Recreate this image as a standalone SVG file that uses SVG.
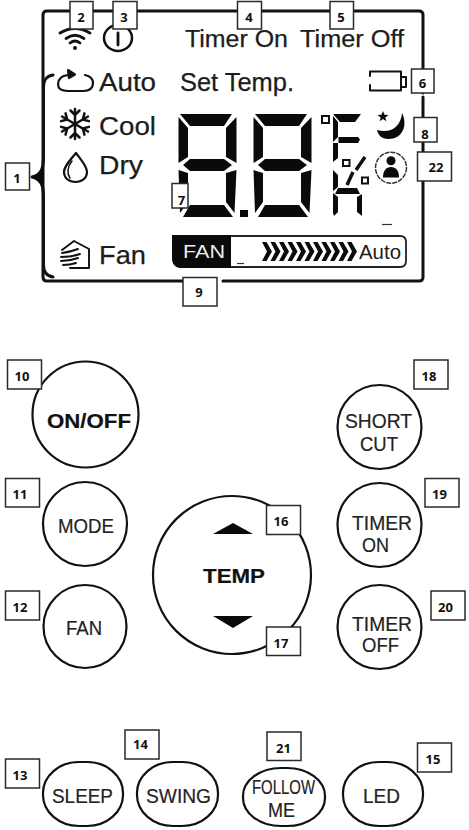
<svg xmlns="http://www.w3.org/2000/svg" width="469" height="830" viewBox="0 0 469 830">
<style>
text{font-family:"Liberation Sans",Arial,sans-serif;fill:#1c1c1c}
.lcd{font-size:26px;stroke:#1c1c1c;stroke-width:.25}
.top{font-size:23px}
.btn{font-size:21px;fill:#222;stroke:#222;stroke-width:.2}
.b{font-weight:bold;fill:#111;stroke:#111;stroke-width:.2}
.num text{font-family:"Open Sans","Liberation Sans",sans-serif;font-size:13px;font-weight:700;fill:#111;text-anchor:middle}
.box{fill:#fff;stroke:#2a2a2a;stroke-width:1.5}
.ring{fill:#fff;stroke:#111;stroke-width:2.2}
.line{fill:none;stroke:#111;stroke-width:3;stroke-linecap:round;stroke-linejoin:round}
.icon{fill:none;stroke:#111;stroke-width:2.2;stroke-linecap:round;stroke-linejoin:round}
.solid{fill:#0a0a0a}
</style>
<defs>
<g id="digit" class="solid">
<polygon points="2,1 54,1 46,13 12,13"/>
<polygon points="0.5,4 10,15 10,44 0.5,50"/>
<polygon points="58.5,4 48,15 48,44 58.5,50"/>
<polygon points="5,52 12,46 46,46 54,52 46,58 12,58"/>
<polygon points="0.5,57 10,60 10,89 2,100"/>
<polygon points="58.5,57 48,60 48,89 56.5,100"/>
<polygon points="12,92 46,92 55,104 5,104"/>
</g>
<polygon id="chev" class="solid" points="0,0 4.5,0 10,9.5 4.5,19 0,19 5,9.5"/>
<path id="arm" d="M0,0V-15M-4.5,-13.5L0,-9L4.5,-13.5"/>
</defs>
<rect width="469" height="830" fill="#fff"/>

<g id="lcd-frame">
<path class="line" d="M183,281H47Q43,281 43,277V15Q43,11 47,11H419Q423,11 423,15V93M423,97V277Q423,281 419,281H223"/>
</g>

<g id="connectors">
<path class="line" d="M53,75C46,76 43.500,80 43.500,88V158C43.500,170 40,175 32,177C40,179 43.500,184 43.500,196V265C43.500,272 46,276 53,277"/>
<path class="solid" d="M32,177C38,174 42,170 43.500,165V189C42,184 38,180 32,177Z"/>
</g>

<g id="icon-wifi" class="icon">
<path d="M70,43Q75,39 80,43M66,38.500Q75,32 84,38.500M60,33Q75,24 90,33" style="stroke-width:2.800"/>
<circle cx="75" cy="48" r="2" class="solid" style="stroke:none"/>
</g>
<g id="icon-power" class="icon"><ellipse cx="118" cy="38" rx="14" ry="13" style="stroke-width:2.500"/><path d="M118,33V45" style="stroke-width:2.800"/></g>

<g id="lcd-labels">
<text class="lcd top" x="185" y="47" textLength="103" lengthAdjust="spacingAndGlyphs">Timer On</text>
<text class="lcd top" x="300" y="47" textLength="104" lengthAdjust="spacingAndGlyphs">Timer Off</text>
<text class="lcd" x="180" y="91" textLength="114" lengthAdjust="spacingAndGlyphs" style="font-size:25px">Set Temp.</text>
<text class="lcd" x="99" y="91" textLength="57" lengthAdjust="spacingAndGlyphs">Auto</text>
<text class="lcd" x="99" y="135" textLength="57" lengthAdjust="spacingAndGlyphs">Cool</text>
<text class="lcd" x="99" y="174" textLength="44" lengthAdjust="spacingAndGlyphs">Dry</text>
<text class="lcd" x="99" y="264" textLength="47" lengthAdjust="spacingAndGlyphs">Fan</text>
</g>

<g id="icon-auto" class="icon"><path d="M70,75C61,75 58,80 58,84C58,89 62,91 68,91H83C90,91 93,88 93,83C93,79 90,76 85,75"/><polygon class="solid" points="68,70 75,74.500 69,78"/></g>
<g id="icon-cool" class="icon" transform="translate(75,124)" style="stroke-width:2.500">
<use href="#arm"/><use href="#arm" transform="rotate(60)"/><use href="#arm" transform="rotate(120)"/><use href="#arm" transform="rotate(180)"/><use href="#arm" transform="rotate(240)"/><use href="#arm" transform="rotate(300)"/>
</g>
<g id="icon-dry" class="icon"><path d="M76,153C70,160 64,167 64,172C64,178 69,182 75.500,182C82,182 87,178 87,172C87,166 81,160 76,153Z"/><path d="M72,161C67,167 67,174 70,178" style="stroke-width:1.500"/></g>
<g id="icon-fan" class="icon" style="stroke-width:1.900"><path d="M62,250L74,241L89,249V268H70"/><path d="M62,253Q70,252 78,249M61,257Q72,257 80,254M61,261Q70,261 78,258M63,265Q70,265 76,263"/></g>

<g id="digits">
<use href="#digit" x="178" y="113"/>
<use href="#digit" x="253" y="113"/>
<rect class="solid" x="240" y="210" width="8" height="7"/>
</g>
<g id="units">
<rect x="322" y="116" width="7" height="7" fill="none" stroke="#111" stroke-width="2"/>
<g class="solid">
<polygon points="333,114 361,114 355,122 340,122"/>
<polygon points="333,116 338,122 338,137 333,142"/>
<polygon points="338.500,137 358,137 360,139.500 358,143 338.500,143"/>
<polygon points="333,143 338,143 338,158 333,162"/>
<polygon points="333,170 338,175 338,187 333,191"/>
<polygon points="338,188 357,188 360,194 335,194"/>
<polygon points="333,193 338,197 338,212 334,216 333,213"/>
<polygon points="357,197 362,194 362,216 357,212"/>
</g>
<rect x="343" y="160" width="6.500" height="6" fill="none" stroke="#111" stroke-width="2"/>
<rect x="362" y="177.500" width="6" height="6" fill="none" stroke="#111" stroke-width="2"/>
<path d="M365,157L356,170M353,172L347,185" fill="none" stroke="#111" stroke-width="3.500"/>
</g>
<g id="icon-battery" class="icon" style="stroke-width:2"><path d="M370,76V71.500H401V90.500H370V85"/><rect x="401" y="77" width="5" height="10"/></g>
<g id="icon-sleep">
<path class="solid" d="M402,113C408,125 403,139 388,139C382,139 378,135 377,130C390,134 401,127 402,113Z"/>
<polygon class="solid" points="383,111 384.500,114.800 388.500,115 385.300,117.500 386.400,121.300 383,119 379.600,121.300 380.700,117.500 377.500,115 381.500,114.800"/>
</g>
<g id="icon-follow">
<circle cx="391" cy="167.700" r="15.500" fill="none" stroke="#333" stroke-width="1.500" stroke-dasharray="5 1"/>
<circle class="solid" cx="391" cy="160.700" r="4.500"/>
<path class="solid" d="M383,177.500C383,171 386,167 391,167C396,167 399,171 399,177.500Z"/>
</g>
<path id="dash-a" d="M382,224.500H392" stroke="#333" stroke-width="1.200"/>

<g id="fan-bar">
<path d="M174,236H400Q406,236 406,242V261Q406,267 400,267H181Q173,267 173,258V236Z" fill="#fff" stroke="#222" stroke-width="1.800"/>
<path class="solid" d="M172,235H231V268H182Q172,268 172,257Z"/>
<text x="183" y="258" textLength="42" lengthAdjust="spacingAndGlyphs" style="font-size:19px;fill:#eee">FAN</text>
<g>
<use href="#chev" x="262" y="242"/><use href="#chev" x="270.500" y="242"/><use href="#chev" x="279" y="242"/><use href="#chev" x="287.500" y="242"/><use href="#chev" x="296" y="242"/><use href="#chev" x="304.500" y="242"/><use href="#chev" x="313" y="242"/><use href="#chev" x="321.500" y="242"/><use href="#chev" x="330" y="242"/><use href="#chev" x="338.500" y="242"/><use href="#chev" x="347" y="242"/>
</g>
<text x="359" y="259" textLength="42" lengthAdjust="spacingAndGlyphs" style="font-size:20px">Auto</text>
<path d="M237,263.500H244" stroke="#333" stroke-width="1.200"/>
</g>

<g id="btn-onoff"><circle class="ring" cx="85.500" cy="414.500" r="53"/><text class="btn b" x="47" y="428" textLength="84" lengthAdjust="spacingAndGlyphs">ON/OFF</text></g>
<g id="btn-mode"><circle class="ring" cx="85" cy="524" r="42"/><text class="btn" x="58" y="533" textLength="56" lengthAdjust="spacingAndGlyphs">MODE</text></g>
<g id="btn-fan"><circle class="ring" cx="85" cy="626.500" r="41.500"/><text class="btn" x="66" y="635" textLength="36" lengthAdjust="spacingAndGlyphs">FAN</text></g>
<g id="btn-temp"><circle class="ring" cx="232" cy="575" r="79"/>
<polygon class="solid" points="213,534 233,523 253,534"/><polygon class="solid" points="213,616 253,616 233,628"/>
<text class="btn b" x="203" y="583" textLength="62" lengthAdjust="spacingAndGlyphs">TEMP</text></g>
<g id="btn-shortcut"><circle class="ring" cx="379.500" cy="427" r="42"/><text class="btn" x="345" y="428" textLength="67" lengthAdjust="spacingAndGlyphs">SHORT</text><text class="btn" x="360" y="451" textLength="38" lengthAdjust="spacingAndGlyphs">CUT</text></g>
<g id="btn-timeron"><circle class="ring" cx="379.500" cy="525" r="42"/><text class="btn" x="352" y="530" textLength="60" lengthAdjust="spacingAndGlyphs">TIMER</text><text class="btn" x="362" y="552" textLength="27" lengthAdjust="spacingAndGlyphs">ON</text></g>
<g id="btn-timeroff"><circle class="ring" cx="379.500" cy="627" r="42"/><text class="btn" x="352" y="631" textLength="60" lengthAdjust="spacingAndGlyphs">TIMER</text><text class="btn" x="362" y="652" textLength="37" lengthAdjust="spacingAndGlyphs">OFF</text></g>
<g id="btn-sleep"><rect class="ring" x="43" y="762" width="80" height="64" rx="36" ry="31"/><text class="btn" x="52" y="803" textLength="61" lengthAdjust="spacingAndGlyphs">SLEEP</text></g>
<g id="btn-swing"><rect class="ring" x="137" y="762" width="81" height="64" rx="36" ry="31"/><text class="btn" x="146" y="803" textLength="65" lengthAdjust="spacingAndGlyphs">SWING</text></g>
<g id="btn-follow"><rect class="ring" x="243" y="768" width="82" height="58" rx="38" ry="28"/><text class="btn" x="252" y="794" textLength="63" lengthAdjust="spacingAndGlyphs">FOLLOW</text><text class="btn" x="268" y="817" textLength="27" lengthAdjust="spacingAndGlyphs">ME</text></g>
<g id="btn-led"><rect class="ring" x="343" y="762" width="80" height="64" rx="36" ry="31"/><text class="btn" x="363" y="803" textLength="37" lengthAdjust="spacingAndGlyphs">LED</text></g>

<g class="num">
<g id="label-1"><rect class="box" x="5.500" y="163" width="24" height="27"/><text x="17" y="183">1</text></g>
<g id="label-2"><rect class="box" x="70" y="1.500" width="23" height="27.500"/><text x="81" y="22">2</text></g>
<g id="label-3"><rect class="box" x="113" y="1.500" width="24" height="27.500"/><text x="124" y="22">3</text></g>
<g id="label-4"><rect class="box" x="237.500" y="1.500" width="24" height="27.500"/><text x="249" y="22">4</text></g>
<g id="label-5"><rect class="box" x="330" y="1.500" width="23.500" height="27.500"/><text x="341" y="22">5</text></g>
<g id="label-6"><rect class="box" x="411.500" y="69" width="22.500" height="24"/><text x="422.500" y="88">6</text></g>
<g id="label-7"><rect class="box" x="172" y="183.500" width="16" height="24.500"/><text x="181.500" y="205">7</text></g>
<g id="label-8"><rect class="box" x="414" y="117.500" width="23" height="24.500"/><text x="425" y="139">8</text></g>
<g id="label-22"><rect class="box" x="417.500" y="152" width="34" height="29"/><text x="436" y="172">22</text></g>
<g id="label-9"><rect class="box" x="183" y="277.500" width="34" height="28.500"/><text x="199" y="297">9</text></g>
<g id="label-10"><rect class="box" x="7.500" y="360" width="34" height="29"/><text x="22" y="381">10</text></g>
<g id="label-11"><rect class="box" x="5.500" y="478.500" width="34" height="28.500"/><text x="20" y="499">11</text></g>
<g id="label-12"><rect class="box" x="5.500" y="591" width="34" height="29"/><text x="20" y="612">12</text></g>
<g id="label-16"><rect class="box" x="266.500" y="505.500" width="34" height="29"/><text x="281" y="526">16</text></g>
<g id="label-17"><rect class="box" x="266.500" y="627" width="34" height="28.500"/><text x="281" y="648">17</text></g>
<g id="label-18"><rect class="box" x="414" y="360" width="34" height="29"/><text x="429" y="381">18</text></g>
<g id="label-19"><rect class="box" x="425" y="478.500" width="34" height="28.500"/><text x="439.500" y="499">19</text></g>
<g id="label-20"><rect class="box" x="431" y="591" width="34" height="29"/><text x="445.500" y="612">20</text></g>
<g id="label-13"><rect class="box" x="5.500" y="759" width="34" height="29"/><text x="20" y="780">13</text></g>
<g id="label-14"><rect class="box" x="125" y="730" width="34" height="29"/><text x="140.500" y="749">14</text></g>
<g id="label-21"><rect class="box" x="267" y="732" width="34" height="28.500"/><text x="283.500" y="753">21</text></g>
<g id="label-15"><rect class="box" x="417.500" y="743" width="34" height="29"/><text x="433" y="764">15</text></g>
</g>
</svg>
